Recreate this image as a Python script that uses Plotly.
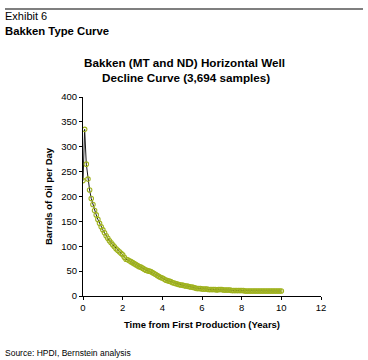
import plotly.graph_objects as go

months = list(range(121))
years = [m / 12 for m in months]
barrels = [
    232, 335, 265, 235, 213, 196, 184, 172, 163, 154, 146, 139,
    133, 127, 121, 116, 111, 107, 103, 99, 95, 92, 89, 86,
    83, 78, 74, 73, 71, 69, 67, 65, 63, 61, 59, 58,
    56, 54, 52, 51, 50, 49, 47, 45, 43, 41, 39, 37,
    36, 34, 32, 31, 30, 29, 27, 26, 25, 24, 23, 22,
    22, 21, 20, 20, 19, 18, 18, 17, 16, 15, 15, 15,
    14, 14, 14, 14, 13, 13, 13, 13, 13, 12, 13, 13,
    13, 12, 12, 12, 12, 12, 11, 11, 11, 11, 11, 11,
    11, 11, 10, 10, 10, 10, 10, 10, 10, 10, 10, 10,
    10, 10, 10, 10, 10, 10, 10, 10, 10, 10, 10, 10,
    10,
]
x_ticks = [0, 2, 4, 6, 8, 10, 12]
y_ticks = [0, 50, 100, 150, 200, 250, 300, 350, 400]
title_lines = ["Bakken (MT and ND) Horizontal Well", "Decline Curve (3,694 samples)"]

FONT = "Liberation Sans, Arial, sans-serif"
PW = 238.0
PH = 199.0


def py(pix):
    return (296 - pix) / PH


def px(pix):
    return (pix - 83) / PW


fig = go.Figure()
fig.add_trace(go.Scatter(
    x=years, y=barrels, mode="lines+markers",
    line=dict(color="#1a1a1a", width=1),
    marker=dict(symbol="circle-open", size=4.5, color="#9fb21e", line=dict(width=1.1, color="#9fb21e")),
    showlegend=False, hoverinfo="skip",
))

fig.update_layout(
    width=368, height=360,
    margin=dict(l=83, r=47, t=97, b=64),
    paper_bgcolor="white", plot_bgcolor="white",
    font=dict(family=FONT, color="black", size=10),
    xaxis=dict(
        range=[0, 12], tickvals=x_ticks, ticktext=[str(v) for v in x_ticks],
        showgrid=False, zeroline=False, showline=True, linecolor="black", linewidth=1,
        ticks="outside", ticklen=3, tickcolor="black", tickfont=dict(size=9.5),
        title=dict(text="<b>Time from First Production (Years)</b>", font=dict(size=9.5), standoff=8),
    ),
    yaxis=dict(
        range=[0, 400], tickvals=y_ticks, ticktext=[str(v) for v in y_ticks],
        showgrid=False, zeroline=False, showline=True, linecolor="black", linewidth=1,
        ticks="outside", ticklen=3, tickcolor="black", tickfont=dict(size=9.5),
        title=dict(text="<b>Barrels of Oil per Day</b>", font=dict(size=9.5), standoff=6),
    ),
    shapes=[dict(type="line", xref="paper", yref="paper",
                 x0=px(5), x1=px(363), y0=py(9), y1=py(9),
                 line=dict(color="black", width=1.2))],
    annotations=[
        dict(text="<b>" + title_lines[0] + "</b>", xref="paper", yref="paper", x=px(184), y=py(63),
             xanchor="center", yanchor="middle", showarrow=False, font=dict(size=11.7, family=FONT)),
        dict(text="<b>" + title_lines[1] + "</b>", xref="paper", yref="paper", x=px(186), y=py(77),
             xanchor="center", yanchor="middle", showarrow=False, font=dict(size=11.7, family=FONT)),
        dict(text="Exhibit 6", xref="paper", yref="paper", x=px(3), y=py(16),
             xanchor="left", yanchor="middle", showarrow=False, font=dict(size=11, family=FONT)),
        dict(text="<b>Bakken Type Curve</b>", xref="paper", yref="paper", x=px(3), y=py(31),
             xanchor="left", yanchor="middle", showarrow=False, font=dict(size=11.3, family=FONT)),
        dict(text="Source: HPDI, Bernstein analysis", xref="paper", yref="paper", x=px(3), y=py(353),
             xanchor="left", yanchor="middle", showarrow=False, font=dict(size=8.5, family=FONT)),
    ],
)

fig.write_html("out.html", config={"displayModeBar": False},
               post_script="document.body.style.margin='0px';document.body.style.padding='0px';")
